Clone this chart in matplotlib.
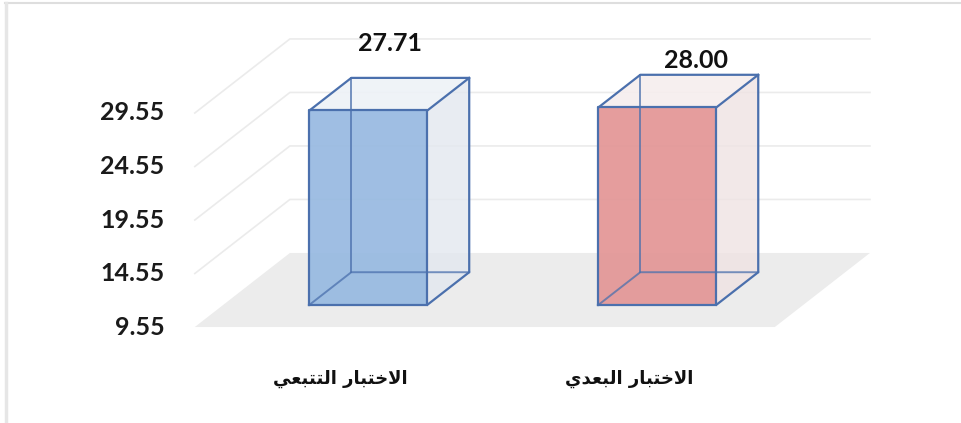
import matplotlib
matplotlib.use('Agg')
import matplotlib.pyplot as plt
from matplotlib.patches import Polygon
from matplotlib.lines import Line2D

# data
categories = ['الاختبار التتبعي', 'الاختبار البعدي']
values = [27.71, 28.00]
value_labels = ['27.71', '28.00']
ticks = [9.55, 14.55, 19.55, 24.55, 29.55]
base = ticks[0]

# fake 3d settings (in data units)
DX, DY = 0.329, 6.92          # full depth of the floor
F0, F1 = 0.30, 0.74           # bar front / back depth fraction
BAR_W = 0.408
X_LEFT, X_RIGHT = -0.502, 1.505

face_colors = ['#97b9e1', '#e39595']
side_colors = ['#e3e8ef', '#efe3e3']
top_colors = ['#eef2f7', '#f6eeee']
edge_color = '#4b70ad'
label_offsets = [(22, 55), (39, 35)]   # px offsets for the value labels


# tiny arabic shaper (matplotlib has no complex text layout)
FORMS = {
    'ا': '\ufe8d\ufe8e', 'د': '\ufea9\ufeaa', 'ر': '\ufead\ufeae',
    '\ufefb': '\ufefb\ufefc',
    'ب': '\ufe8f\ufe90\ufe91\ufe92', 'ت': '\ufe95\ufe96\ufe97\ufe98',
    'خ': '\ufea5\ufea6\ufea7\ufea8', 'ع': '\ufec9\ufeca\ufecb\ufecc',
    'ل': '\ufedd\ufede\ufedf\ufee0', 'ي': '\ufef1\ufef2\ufef3\ufef4',
}

def shape(text):
    text = text.replace('لا', '\ufefb')
    out = []
    for k, ch in enumerate(text):
        f = FORMS.get(ch)
        if f is None:
            out.append(ch)
            continue
        prev = text[k - 1] if k > 0 else ''
        nxt = text[k + 1] if k + 1 < len(text) else ''
        jp = prev in FORMS and len(FORMS[prev]) == 4
        jn = len(f) == 4 and nxt in FORMS
        out.append(f[(1 if jp else 0) + (2 if jn else 0)])
    return ''.join(reversed(out))


fig = plt.figure(figsize=(9.61, 4.23), dpi=100)
ax = fig.add_axes([0, 0, 1, 1])
ax.set_xlim(-1.176, 2.149)
ax.set_ylim(0.58, 40.11)
ax.axis('off')

# frame lines (top + left)
fig.add_artist(Line2D([0.005, 1], [0.994, 0.994], transform=fig.transFigure, color='#dedede', lw=1.5))
fig.add_artist(Line2D([0.006, 0.006], [0, 0.994], transform=fig.transFigure, color='#e6e6e6', lw=2.5))

# floor
ax.add_patch(Polygon([(X_LEFT, base), (X_RIGHT, base), (X_RIGHT + DX, base + DY), (X_LEFT + DX, base + DY)],
                     closed=True, facecolor='#ececec', edgecolor='none', zorder=1))

# gridlines on left and back wall
for t in ticks[1:]:
    ax.plot([X_LEFT, X_LEFT + DX, X_RIGHT + DX], [t, t + DY, t + DY], color='#ebebeb', lw=1.2, zorder=1)

# tick labels
for t in ticks:
    ax.text(X_LEFT - 0.105, t, f'{t:.2f}', ha='right', va='center', fontsize=18,
            fontfamily='Lato', fontweight='bold', color='#1a1a1a')

# bars
fx0, fy0 = F0 * DX, F0 * DY
bdx, bdy = (F1 - F0) * DX, (F1 - F0) * DY
xs = list(range(len(values)))
heights = [v - base for v in values]
bars = ax.bar([x + fx0 for x in xs], heights, bottom=base + fy0, width=BAR_W,
              color=face_colors, alpha=0.92, edgecolor='none', zorder=4)

for i, (bar, v) in enumerate(zip(bars, values)):
    x0, x1 = bar.get_x(), bar.get_x() + bar.get_width()
    y0, y1 = bar.get_y(), bar.get_y() + bar.get_height()
    # side and top faces
    ax.add_patch(Polygon([(x1, y0), (x1 + bdx, y0 + bdy), (x1 + bdx, y1 + bdy), (x1, y1)],
                         closed=True, facecolor=side_colors[i], alpha=0.8, edgecolor='none', zorder=3))
    ax.add_patch(Polygon([(x0, y1), (x0 + bdx, y1 + bdy), (x1 + bdx, y1 + bdy), (x1, y1)],
                         closed=True, facecolor=top_colors[i], alpha=0.9, edgecolor='none', zorder=3))
    # hidden edges
    hid = dict(color=edge_color, lw=1.4, alpha=0.75, zorder=5)
    ax.plot([x0 + bdx, x0 + bdx], [y0 + bdy, y1 + bdy], **hid)
    ax.plot([x0, x0 + bdx, x1 + bdx], [y0, y0 + bdy, y0 + bdy], **hid)
    # visible edges
    vis = dict(color=edge_color, lw=1.6, zorder=6)
    ax.plot([x0, x1, x1, x0, x0], [y0, y0, y1, y1, y0], **vis)
    ax.plot([x0, x0 + bdx, x1 + bdx, x1 + bdx, x1], [y1, y1 + bdy, y1 + bdy, y0 + bdy, y0], **vis)
    ax.plot([x1, x1 + bdx], [y1, y1 + bdy], **vis)
    # value label
    ax.annotate(value_labels[i], xy=((x0 + x1) / 2, y1), xytext=label_offsets[i],
                textcoords='offset pixels', ha='center', va='bottom', fontsize=18,
                fontfamily='Lato', fontweight='bold', color='#111111', zorder=7)

# category labels
for x, c in zip(xs, categories):
    ax.text(x, base - 4.8, shape(c), ha='center', va='center', fontsize=13,
            fontfamily='DejaVu Sans', fontweight='bold', color='#111111')

fig.savefig('out.png', dpi=100)
